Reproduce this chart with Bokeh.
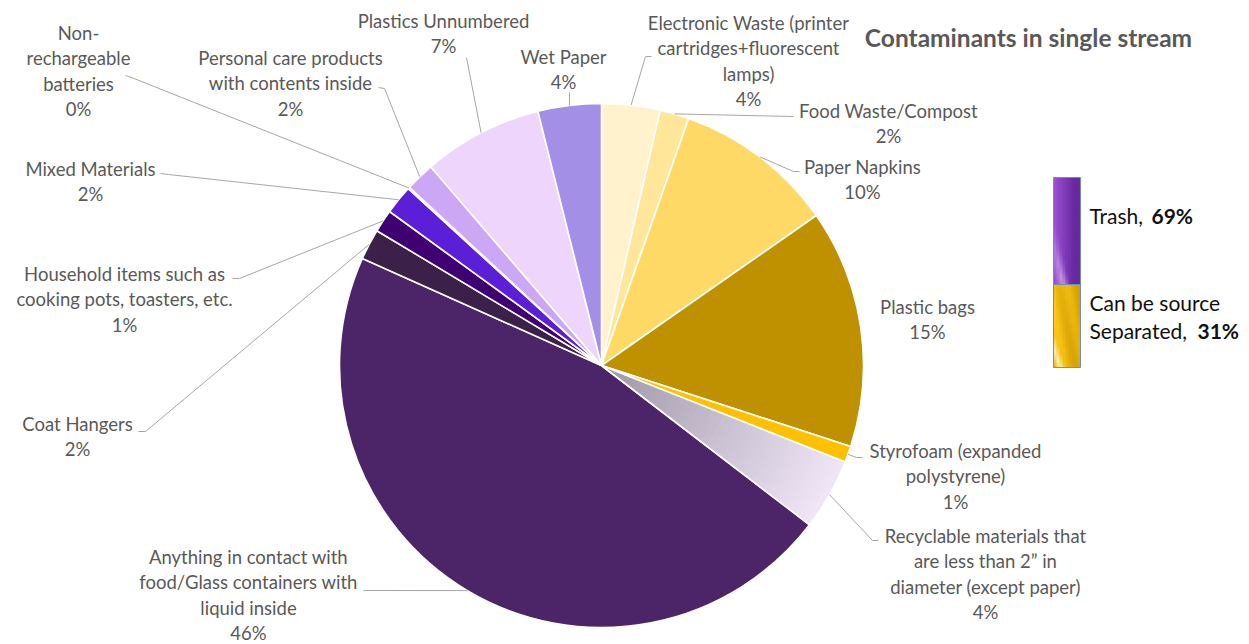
import numpy as np
from bokeh.plotting import figure
from bokeh.models import Range1d
from bokeh.embed import file_html
from bokeh.resources import INLINE
from bokeh.core.properties import value

# ---------------- data ----------------
categories = [
    "Electronic Waste (printer\ncartridges+fluorescent\nlamps)",
    "Food Waste/Compost",
    "Paper Napkins",
    "Plastic bags",
    "Styrofoam (expanded\npolystyrene)",
    "Recyclable materials that\nare less than 2\u201d in\ndiameter (except paper)",
    "Anything in contact with\nfood/Glass containers with\nliquid inside",
    "Coat Hangers",
    "Household items such as\ncooking pots, toasters, etc.",
    "Mixed Materials",
    "Non-\nrechargeable\nbatteries",
    "Personal care products\nwith contents inside",
    "Plastics Unnumbered",
    "Wet Paper",
]
values = [3.6, 1.8, 9.9, 14.7, 1.0, 4.4, 46.3, 1.9, 1.4, 1.8, 0.1, 1.8, 7.4, 3.9]
groups = ["source", "source", "source", "source", "source",
          "trash", "trash", "trash", "trash", "trash", "trash", "trash", "trash", "trash"]
group_names = {"trash": "Trash, ", "source": "Separated, "}
title = "Contaminants in single stream"

# ---------------- styles ----------------
colors = ["#FFF2CC", "#FFE699", "#FFD966", "#BF9000", "#FFC000", None,
          "#4B2568", "#3B2049", "#3F0071", "#5A1FD6", "#D9A521", "#CBA7F6",
          "#EED5FB", "#A48FE6"]
FONT = "Lato"
LBL_COLOR = "#595959"
LINE_H = 25.5

W, H = 1249, 644
def Y(ys):
    return H - ys

p = figure(width=W, height=H, x_range=Range1d(0, W), y_range=Range1d(0, H),
           output_backend="svg", toolbar_location=None, min_border=0)
p.xaxis.visible = False
p.yaxis.visible = False
p.grid.visible = False
p.outline_line_color = None
p.background_fill_color = "white"
p.border_fill_color = "white"

cx, cy, R = 601, Y(365), 262
vals = np.array(values, dtype=float)
cum = np.concatenate([[0], np.cumsum(vals)]) / vals.sum() * 2 * np.pi
a0, a1 = cum[:-1], cum[1:]
starts = np.pi / 2 - a1
ends = np.pi / 2 - a0

def hex2rgb(h):
    h = h.lstrip("#")
    return np.array([int(h[i:i + 2], 16) for i in (0, 2, 4)], dtype=float)

def rgb2hex(c):
    c = np.clip(np.round(c), 0, 255).astype(int)
    return "#%02x%02x%02x" % tuple(c)

# solid slices
idx = [i for i in range(len(values)) if colors[i] is not None]
p.wedge(x=cx, y=cy, radius=R,
        start_angle=[starts[i] for i in idx], end_angle=[ends[i] for i in idx],
        fill_color=[colors[i] for i in idx], line_color="white", line_width=1.6)

# gradient slice (recyclable)
gi = [i for i in range(len(values)) if colors[i] is None][0]
N = 40
c_in, c_out = hex2rgb("#9D96A5"), hex2rgb("#F0E6F8")
inner, outer, gcol = [], [], []
for k in range(N):
    t = (k + 0.5) / N
    inner.append(R * k / N)
    outer.append(min(R, R * (k + 1) / N + 0.8))
    gcol.append(rgb2hex(c_in + (c_out - c_in) * t))
p.annular_wedge(x=cx, y=cy, inner_radius=inner, outer_radius=outer,
                start_angle=starts[gi], end_angle=ends[gi],
                fill_color=gcol, line_color=None)
p.wedge(x=cx, y=cy, radius=R, start_angle=starts[gi], end_angle=ends[gi],
        fill_color=None, line_color="white", line_width=1.6)

# ---------------- labels ----------------
# layout: (center x, first line y (screen), leader points on label side (screen))
layout = [
    (748, 22, [(651, 56), (645, 56)]),
    (888, 110, [(793, 116)]),
    (862, 166, [(799, 171), (793, 171)]),
    (927, 306, None),
    (955, 450, [(862, 457), (856, 457)]),
    (985, 535, [(878, 540), (872, 540)]),
    (248, 556, [(363, 590)]),
    (77, 423, [(138, 431), (145, 431)]),
    (124, 273, [(232, 278), (239, 278)]),
    (90, 168, [(160, 173), (168, 174)]),
    (78, 32, [(125, 75), (131, 77)]),
    (290, 57, [(378, 87), (384, 88)]),
    (443, 20, [(466, 57)]),
    (563, 56, [(569, 92)]),
]

tx, ty, tt = [], [], []
lxs, lys = [], []
am = (a0 + a1) / 2
for i, (name, v) in enumerate(zip(categories, values)):
    lx, ly0, pts = layout[i]
    lines = name.split("\n") + [f"{round(v)}%"]
    for j, ln in enumerate(lines):
        tx.append(lx)
        ty.append(Y(ly0 + j * LINE_H))
        tt.append(ln)
    if pts:
        ex = cx + R * np.sin(am[i])
        ey = cy + R * np.cos(am[i])
        lxs.append([q[0] for q in pts] + [ex])
        lys.append([Y(q[1]) for q in pts] + [ey])

p.multi_line(xs=lxs, ys=lys, line_color="#A6A6A6", line_width=1)
p.text(x=tx, y=ty, text=tt, text_font=value(FONT), text_font_size="18.5px",
       text_color=LBL_COLOR, text_align="center", text_baseline="middle")

# title
p.text(x=[1028], y=[Y(37)], text=[title], text_font=value(FONT), text_font_size="24.5px",
       text_font_style="bold", text_color=LBL_COLOR, text_align="center",
       text_baseline="middle")

# ---------------- legend (group totals) ----------------
tot = vals.sum()
trash_pct = round(sum(v for v, g in zip(values, groups) if g == "trash") / tot * 100)
src_pct = round(sum(v for v, g in zip(values, groups) if g == "source") / tot * 100)

bx0, bx1 = 1053, 1080
py0, py1, py2 = 177, 284, 367

def grad_bar(y0, y1, fn):
    l, r, t, b, c = [], [], [], [], []
    step = 3
    for xx in range(bx0, bx1, step):
        for yy in range(y0, y1, step):
            u = (xx - bx0 + 1.5) / (bx1 - bx0)
            vv = (yy - y0 + 1.5) / (y1 - y0)
            l.append(xx); r.append(min(bx1, xx + step + 0.5))
            t.append(Y(yy)); b.append(Y(min(y1, yy + step + 0.5)))
            c.append(rgb2hex(fn(u, vv)))
    p.quad(left=l, right=r, top=t, bottom=b, fill_color=c, line_color=None)

def purple(u, v):
    light, dark = np.array([158, 82, 212]), np.array([104, 40, 160])
    base = light + (dark - light) * min(1, u * 1.3)
    d = u + (1 - v) * 0.9
    h = max(0.0, 1 - abs(d - 0.35) / 0.25) * max(0, v - 0.35) * 1.4
    hl = np.array([205, 165, 232])
    return base + (hl - base) * min(1, h)

def gold(u, v):
    light, dark = np.array([255, 200, 20]), np.array([200, 150, 0])
    d = u - v * 0.6
    s = 0.5 + 0.5 * np.sin(d * 9)
    base = light + (dark - light) * (0.35 * s + 0.5 * u)
    h = max(0.0, 1 - abs((u + (1 - v)) - 0.25) / 0.2)
    hl = np.array([255, 238, 180])
    return base + (hl - base) * h

grad_bar(py0, py1, purple)
grad_bar(py1, py2, gold)
p.quad(left=[bx0, bx0], right=[bx1, bx1], top=[Y(py0), Y(py1)], bottom=[Y(py1), Y(py2)],
       fill_color=None, line_color="#6F8FB8", line_width=1)

LEG_SIZE = "21px"
p.text(x=[1089, 1089, 1089], y=[Y(215), Y(302), Y(330)],
       text=[group_names["trash"], "Can be source", group_names["source"]],
       text_font=value(FONT), text_font_size=LEG_SIZE, text_color="#111111",
       text_align="left", text_baseline="middle")
p.text(x=[1151, 1197], y=[Y(215), Y(330)], text=[f"{trash_pct}%", f"{src_pct}%"],
       text_font=value(FONT), text_font_size=LEG_SIZE, text_font_style="bold",
       text_color="#111111", text_align="left", text_baseline="middle")

open("out.html", "w").write(file_html(p, INLINE))
